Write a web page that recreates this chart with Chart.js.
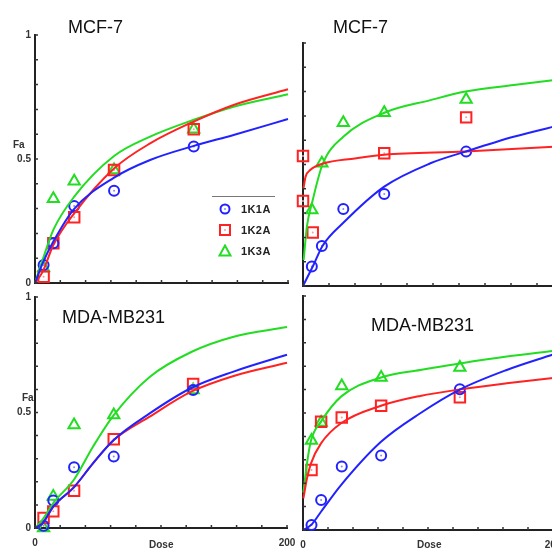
<!DOCTYPE html>
<html>
<head>
<meta charset="utf-8">
<script src="https://cdn.jsdelivr.net/npm/chart.js@4.4.1/dist/chart.umd.min.js"></script>
<style>
  html, body { margin: 0; padding: 0; background: #fff; }
  body { width: 552px; height: 548px; overflow: hidden; position: relative; font-family: "Liberation Sans", Arial, sans-serif; }
  canvas { position: absolute; left: 0; top: 0; }
  .title { position: absolute; font-size: 18px; line-height: 18px; color: #111; white-space: nowrap; }
  .lab { position: absolute; font-size: 10px; line-height: 10px; font-weight: bold; color: #333; white-space: nowrap; }
  .leg { position: absolute; font-size: 11px; line-height: 11px; font-weight: bold; color: #222; letter-spacing: 0.4px; }
  .legline { position: absolute; left: 212px; top: 196px; width: 63px; height: 1px; background: #777; }
  .sym { position: absolute; }
</style>
</head>
<body>
<canvas id="c1" width="600" height="548"></canvas>
<canvas id="c2" width="600" height="548"></canvas>
<canvas id="c3" width="600" height="548"></canvas>
<canvas id="c4" width="600" height="548"></canvas>

<!-- panel titles -->
<div class="title" style="left:68px; top:18px;">MCF-7</div>
<div class="title" style="left:333px; top:18px;">MCF-7</div>
<div class="title" style="left:62px; top:308px;">MDA-MB231</div>
<div class="title" style="left:371px; top:316px;">MDA-MB231</div>

<!-- axis titles -->
<div class="lab" style="left:13px; top:140px;">Fa</div>
<div class="lab" style="left:22px; top:393px;">Fa</div>
<div class="lab" style="left:149px; top:540px;">Dose</div>
<div class="lab" style="left:417px; top:540px;">Dose</div>

<!-- legend -->
<div class="legline"></div>
<svg class="sym" style="left:219px; top:203px;" width="12" height="12"><circle cx="6" cy="6" r="4.5" fill="none" stroke="#2222ff" stroke-width="2"/><circle cx="6" cy="6" r="1" fill="#8888ff"/></svg>
<div class="leg" style="left:241px; top:204px;">1K1A</div>
<svg class="sym" style="left:219px; top:224px;" width="12" height="12"><rect x="1" y="1" width="10" height="10" fill="none" stroke="#ff2222" stroke-width="2"/><circle cx="6" cy="6" r="1" fill="#ff9999"/></svg>
<div class="leg" style="left:241px; top:225px;">1K2A</div>
<svg class="sym" style="left:218px; top:244px;" width="14" height="13"><polygon points="7,1.5 12.5,11.5 1.5,11.5" fill="none" stroke="#22dd22" stroke-width="2"/></svg>
<div class="leg" style="left:241px; top:246px;">1K3A</div>

<script>
// ---- data ----
const seriesNames = ["1K1A", "1K2A", "1K3A"];
const yTickLabels = ["0", "0.5", "1"];
const xTickLabels = ["0", "200"];

// measured doses (same for most series)
const doses = [6.8, 14.5, 31, 62.5, 125.5];

// MCF-7 (top left)
const tlCurveDose = [0, 6, 14.5, 31, 62.5, 91, 125, 157, 200];
const tlCurve1K1A = [0, 0.079, 0.167, 0.299, 0.425, 0.496, 0.552, 0.597, 0.661];
const tlCurve1K2A = [0, 0.045, 0.153, 0.281, 0.462, 0.563, 0.65, 0.718, 0.781];
const tlCurve1K3A = [0, 0.093, 0.214, 0.348, 0.512, 0.59, 0.657, 0.711, 0.761];
const tl1K1A = [0.073, 0.16, 0.31, 0.372, 0.55];
const tl1K2A = [0.025, 0.16, 0.265, 0.456, 0.62];
const tl1K3A = [0.06, 0.34, 0.41, 0.456, 0.62];

// MCF-7 (top right)
const trCurveDose1K1A = [0, 7.5, 15, 31, 62.5, 98, 125, 162, 200];
const trCurve1K1A = [0, 0.08, 0.165, 0.26, 0.409, 0.505, 0.553, 0.614, 0.665];
const trCurveDose1K2A = [0.3, 2, 5.5, 15, 40, 62.5, 125, 200];
const trCurve1K2A = [0.4, 0.45, 0.477, 0.503, 0.525, 0.54, 0.553, 0.575];
const trCurveDose1K3A = [0.5, 3, 7.5, 15, 31, 62.5, 98, 125, 162, 200];
const trCurve1K3A = [0.107, 0.244, 0.354, 0.5, 0.614, 0.713, 0.765, 0.8, 0.827, 0.852];
const trDose1K2A = [0, 0, 7.5, 62.5, 125.5];
const tr1K1A = [0.08, 0.165, 0.317, 0.379, 0.553];
const tr1K2A = [0.535, 0.35, 0.22, 0.546, 0.694];
const tr1K3A = [0.313, 0.505, 0.672, 0.713, 0.768];

// MDA-MB231 (bottom left)
const blCurveDose = [0, 6, 14.5, 31, 46, 62.5, 91, 124, 157, 200];
const blCurve1K1A = [0, 0.02, 0.093, 0.177, 0.28, 0.381, 0.496, 0.606, 0.676, 0.75];
const blCurve1K2A = [0, 0.02, 0.093, 0.177, 0.28, 0.381, 0.482, 0.59, 0.657, 0.715];
const blCurve1K3A = [0, 0.036, 0.108, 0.21, 0.352, 0.489, 0.654, 0.762, 0.827, 0.87];
const bl1K1A = [0.01, 0.119, 0.263, 0.309, 0.597];
const bl1K2A = [0.043, 0.072, 0.161, 0.384, 0.623];
const bl1K3A = [0, 0.136, 0.446, 0.489, 0.597];

// MDA-MB231 (bottom right)
const brCurveDose1K1A = [0, 6.4, 14.4, 30.4, 62.4, 93.8, 125.8, 163, 200];
const brCurve1K1A = [0, 0.021, 0.078, 0.192, 0.377, 0.499, 0.601, 0.684, 0.75];
const brCurveDose = [0.3, 3.2, 6.4, 14.4, 30.4, 62.4, 93.8, 125.8, 163, 200];
const brCurve1K2A = [0.135, 0.221, 0.285, 0.37, 0.456, 0.531, 0.573, 0.601, 0.627, 0.65];
const brCurve1K3A = [0.16, 0.285, 0.382, 0.463, 0.57, 0.652, 0.684, 0.712, 0.741, 0.765];
const br1K1A = [0.021, 0.128, 0.271, 0.318, 0.601];
const br1K2A = [0.256, 0.463, 0.481, 0.531, 0.567];
const br1K3A = [0.382, 0.459, 0.615, 0.652, 0.694];

// ---- styling ----
const colors = { "1K1A": "#2222ff", "1K2A": "#ff2222", "1K3A": "#22dd22" };
const dotColors = { "1K1A": "#8888ff", "1K2A": "#ff9999" };
const markers = {
  "1K1A": { style: "circle", r: 5 },
  "1K2A": { style: "rect", r: 7.4 },
  "1K3A": { style: "triangle", r: 6.5 }
};

const CW = 600, CH = 548;

function pts(xs, ys) {
  return xs.map((x, i) => ({ x: x, y: ys[i] }));
}

function curveSet(name, xs, ys) {
  return {
    type: "line",
    data: pts(xs, ys),
    borderColor: colors[name],
    borderWidth: 2,
    pointRadius: 0,
    fill: false,
    cubicInterpolationMode: "monotone",
    clip: false
  };
}

function pointSets(name, xs, ys) {
  const m = markers[name];
  const sets = [{
    type: "scatter",
    data: pts(xs, ys),
    pointStyle: m.style,
    pointRadius: m.r,
    borderColor: colors[name],
    backgroundColor: "rgba(0,0,0,0)",
    borderWidth: 2,
    clip: false
  }];
  if (dotColors[name]) {
    sets.push({
      type: "scatter",
      data: pts(xs, ys),
      pointStyle: "circle",
      pointRadius: 1,
      borderWidth: 0,
      backgroundColor: dotColors[name],
      clip: false
    });
  }
  return sets;
}

// tick marks pointing into the plot
const innerTicks = {
  id: "innerTicks",
  afterDraw(chart) {
    const { ctx, chartArea: a, scales } = chart;
    const x = scales.x, y = scales.y;
    ctx.save();
    ctx.strokeStyle = "#333";
    ctx.lineWidth = 1.5;
    ctx.beginPath();
    x.ticks.forEach((t, i) => {
      const px = x.getPixelForTick(i);
      ctx.moveTo(px, a.bottom);
      ctx.lineTo(px, a.bottom - 3);
    });
    y.ticks.forEach((t, i) => {
      const py = y.getPixelForTick(i);
      ctx.moveTo(a.left, py);
      ctx.lineTo(a.left + 3, py);
    });
    ctx.stroke();
    ctx.restore();
  }
};

function yLabel(v) {
  if (Math.abs(v) < 1e-9) return yTickLabels[0];
  if (Math.abs(v - 0.5) < 1e-9) return yTickLabels[1];
  if (Math.abs(v - 1) < 1e-9) return yTickLabels[2];
  return "";
}
function xLabel(v) {
  if (Math.abs(v) < 1e-9) return xTickLabels[0];
  if (Math.abs(v - 200) < 1e-9) return xTickLabels[1];
  return "";
}

function makePanel(id, box, datasets, showY, showX) {
  new Chart(document.getElementById(id), {
    data: { datasets: datasets },
    plugins: [innerTicks],
    options: {
      responsive: false,
      animation: false,
      layout: { padding: { left: 0, top: box.top, right: CW - box.right, bottom: 0 } },
      plugins: { legend: { display: false }, tooltip: { enabled: false } },
      scales: {
        x: {
          type: "linear",
          min: 0, max: 200,
          afterFit: s => { s.height = CH - box.bottom; },
          grid: { display: true, drawOnChartArea: false, drawTicks: false },
          border: { display: true, color: "#222", width: 2 },
          ticks: {
            stepSize: 20, autoSkip: false, maxRotation: 0, padding: 9,
            color: "#333", font: { size: 10, weight: "bold" },
            callback: v => showX ? xLabel(v) : ""
          }
        },
        y: {
          type: "linear",
          min: 0, max: 1,
          afterFit: s => { s.width = box.left; },
          grid: { display: true, drawOnChartArea: false, drawTicks: false },
          border: { display: true, color: "#222", width: 2 },
          ticks: {
            stepSize: 0.1, autoSkip: false, padding: 4,
            color: "#333", font: { size: 10, weight: "bold" },
            callback: v => showY ? yLabel(v) : ""
          }
        }
      }
    }
  });
}

Chart.defaults.font.family = '"Liberation Sans", Arial, sans-serif';

// top left
makePanel("c1", { left: 35, top: 35, right: 288, bottom: 283 }, [
  curveSet("1K1A", tlCurveDose, tlCurve1K1A),
  curveSet("1K2A", tlCurveDose, tlCurve1K2A),
  curveSet("1K3A", tlCurveDose, tlCurve1K3A),
  ...pointSets("1K1A", doses, tl1K1A),
  ...pointSets("1K2A", doses, tl1K2A),
  ...pointSets("1K3A", doses, tl1K3A)
], true, false);

// top right
makePanel("c2", { left: 303, top: 43, right: 563, bottom: 286 }, [
  curveSet("1K1A", trCurveDose1K1A, trCurve1K1A),
  curveSet("1K2A", trCurveDose1K2A, trCurve1K2A),
  curveSet("1K3A", trCurveDose1K3A, trCurve1K3A),
  ...pointSets("1K1A", doses, tr1K1A),
  ...pointSets("1K2A", trDose1K2A, tr1K2A),
  ...pointSets("1K3A", doses, tr1K3A)
], false, false);

// bottom left
makePanel("c3", { left: 35, top: 297, right: 287, bottom: 528 }, [
  curveSet("1K1A", blCurveDose, blCurve1K1A),
  curveSet("1K2A", blCurveDose, blCurve1K2A),
  curveSet("1K3A", blCurveDose, blCurve1K3A),
  ...pointSets("1K1A", doses, bl1K1A),
  ...pointSets("1K2A", doses, bl1K2A),
  ...pointSets("1K3A", doses, bl1K3A)
], true, true);

// bottom right
makePanel("c4", { left: 303, top: 296, right: 553, bottom: 530 }, [
  curveSet("1K1A", brCurveDose1K1A, brCurve1K1A),
  curveSet("1K2A", brCurveDose, brCurve1K2A),
  curveSet("1K3A", brCurveDose, brCurve1K3A),
  ...pointSets("1K1A", doses, br1K1A),
  ...pointSets("1K2A", doses, br1K2A),
  ...pointSets("1K3A", doses, br1K3A)
], false, true);
</script>
</body>
</html>
